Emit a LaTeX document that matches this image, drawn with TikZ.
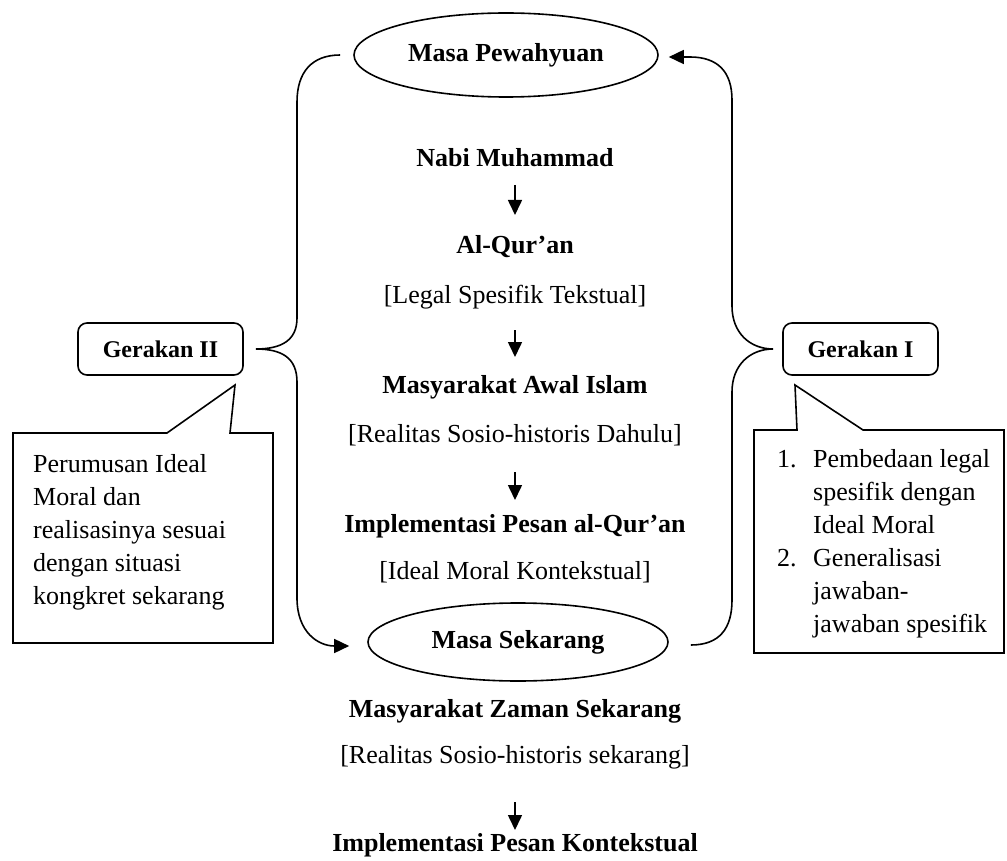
\documentclass[tikz,border=0pt]{standalone}
\usepackage{fontspec}
\setmainfont{Liberation Serif}
\usetikzlibrary{shapes.geometric,arrows.meta}
\begin{document}
\begin{tikzpicture}[x=1pt,y=-1pt,
  every node/.style={inner sep=0pt,font=\fontsize{26}{30}\selectfont},
  head/.style={font=\fontsize{26}{30}\selectfont\bfseries},
  sub/.style={font=\fontsize{26}{30}\selectfont},
  oval/.style={ellipse,draw,line width=1.6pt,font=\fontsize{26}{30}\selectfont\bfseries},
  gbox/.style={draw,line width=1.6pt,rounded corners=9pt,minimum height=52pt,font=\fontsize{24}{28}\selectfont\bfseries},
  conn/.style={line width=1.6pt},
  arr/.style={line width=1.6pt,-{Triangle[width=14pt,length=15pt]}},
  callout/.style={line width=1.6pt,line join=miter},
  calltext/.style={align=left,font=\fontsize{26}{33}\selectfont}]
\useasboundingbox (0,0) rectangle (1007,861);

% ellipses
\node[oval,minimum width=304pt,minimum height=84pt] (pw) at (506,55) {Masa Pewahyuan};
\node[oval,minimum width=300pt,minimum height=78pt] (msk) at (518,642) {Masa Sekarang};

% central column
\node[head] (nabi) at (515,158) {Nabi Muhammad};
\node[head] (quran) at (515,247) {Al-Qur’an};
\node[sub] (legal) at (515,297) {[Legal Spesifik Tekstual]};
\node[head] (awal) at (515,387) {Masyarakat Awal Islam};
\node[sub] (dahulu) at (515,435) {[Realitas Sosio-historis Dahulu]};
\node[head] (impl) at (515,526) {Implementasi Pesan al-Qur’an};
\node[sub] (ideal) at (515,572) {[Ideal Moral Kontekstual]};
\node[head] (zaman) at (515,711) {Masyarakat Zaman Sekarang};
\node[sub] (skr) at (515,757) {[Realitas Sosio-historis sekarang]};
\node[head] (final) at (515,845) {Implementasi Pesan Kontekstual};

\draw[arr,shorten <=27pt,shorten >=32pt] (nabi.center) -- (quran.center);
\draw[arr,shorten <=33pt,shorten >=30pt] (legal.center) -- (awal.center);
\draw[arr,shorten <=37pt,shorten >=26pt] (dahulu.center) -- (impl.center);
\draw[arr,shorten <=45pt,shorten >=15pt] (skr.center) -- (final.center);

% Gerakan boxes
\node[gbox,minimum width=165pt] (g2) at (160.5,349) {Gerakan II};
\node[gbox,minimum width=155pt] (g1) at (860.5,349) {Gerakan I};
\coordinate (g2tip) at ([xshift=12pt]g2.east);
\coordinate (g1tip) at ([xshift=-9pt]g1.west);

% left bracket: Masa Pewahyuan -> Masa Sekarang
\draw[arr] ([xshift=-13pt]pw.west) .. controls (312,55) and (297,72) .. (297,102)
  -- (297,318) .. controls (297,340) and (282,349) .. (g2tip)
  .. controls (282,349) and (297,358) .. (297,382)
  -- (297,598) .. controls (297,632) and (318,646) .. ([xshift=-18pt,yshift=-4pt]msk.west);

% right bracket: Masa Sekarang -> Masa Pewahyuan
\draw[arr] ([xshift=22pt,yshift=-3pt]msk.east) .. controls (720,645) and (732,628) .. (732,600)
  -- (732,392) .. controls (732,365) and (750,349) .. (g1tip)
  .. controls (750,349) and (732,333) .. (732,306)
  -- (732,100) .. controls (732,72) and (718,57) .. (690,57) -- ([xshift=10pt,yshift=-2pt]pw.east);

% callouts
\draw[callout] (13,433) -- (167,433) -- (235,385) -- (230,433) -- (273,433) -- (273,643) -- (13,643) -- cycle;
\draw[callout] (754,430) -- (797,430) -- (795,385) -- (863,430) -- (1004,430) -- (1004,653) -- (754,653) -- cycle;

\node[calltext,anchor=north west] (t2) at (33,454) {Perumusan Ideal\\Moral dan\\realisasinya sesuai\\dengan situasi\\kongkret sekarang};
\node[calltext,anchor=north west] (t1) at (777,449) {\makebox[36pt][l]{1.}Pembedaan legal\\\makebox[36pt]{}spesifik dengan\\\makebox[36pt]{}Ideal Moral\\\makebox[36pt][l]{2.}Generalisasi\\\makebox[36pt]{}jawaban-\\\makebox[36pt]{}jawaban spesifik};
\end{tikzpicture}
\end{document}
